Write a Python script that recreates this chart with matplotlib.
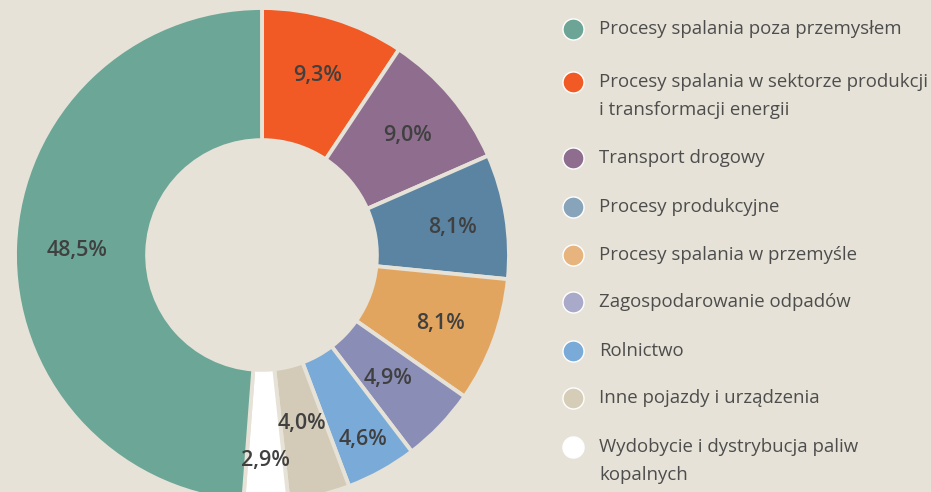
import matplotlib.pyplot as plt
import numpy as np

# Data
categories = ['Procesy spalania w sektorze produkcji\ni transformacji energii',
              'Transport drogowy',
              'Procesy produkcyjne',
              'Procesy spalania w przemyśle',
              'Zagospodarowanie odpadów',
              'Rolnictwo',
              'Inne pojazdy i urządzenia',
              'Wydobycie i dystrybucja paliw\nkopalnych',
              'Procesy spalania poza przemysłem']
values = [9.3, 9.0, 8.1, 8.1, 4.9, 4.6, 4.0, 2.9, 48.5]
labels = ['9,3%', '9,0%', '8,1%', '8,1%', '4,9%', '4,6%', '4,0%', '2,9%', '48,5%']
colors = ['#f15a24', '#8e6d8f', '#5b84a3', '#e2a55f', '#8a8db5',
          '#7aabd8', '#d3cbb8', '#ffffff', '#6ba696']
legend_colors = ['#f15a24', '#8e6d8f', '#87a4bb', '#e7b47e', '#a9a9c9',
                 '#7aabd8', '#d6cdb9', '#ffffff', '#6ca595']

# legend order as in the picture (green first)
legend_order = [8, 0, 1, 2, 3, 4, 5, 6, 7]

bg = '#e6e2d7'
label_r = [0.77, 0.77, 0.78, 0.77, 0.71, 0.84, 0.69, 0.82, 0.75]

fig = plt.figure(figsize=(9.31, 4.92), dpi=100)
fig.patch.set_facecolor(bg)

W, H = 931, 492
cx, cy, R = 262, 255, 247
ax = fig.add_axes([(cx - R) / W, (H - cy - R) / H, 2 * R / W, 2 * R / H])
ax.set_facecolor(bg)
wedges, _ = ax.pie(values, colors=colors, startangle=90, counterclock=False,
                   radius=1, wedgeprops=dict(width=0.535, edgecolor=bg, linewidth=2.8))
ax.set_xlim(-1, 1)
ax.set_ylim(-1, 1)
ax.set_aspect('equal')
ax.axis('off')

for w, lab, r in zip(wedges, labels, label_r):
    ang = np.deg2rad((w.theta1 + w.theta2) / 2)
    ax.text(r * np.cos(ang), r * np.sin(ang), lab, ha='center', va='center_baseline',
            fontsize=15.5, fontweight='semibold', family='Open Sans', color='#404040')

# legend drawn by hand
lax = fig.add_axes([0, 0, 1, 1])
lax.set_xlim(0, W)
lax.set_ylim(H, 0)
lax.axis('off')
ys = [29, 82, 158, 207, 255, 302, 351, 398, 447]
for y, i in zip(ys, legend_order):
    lax.scatter(573, y, s=230, color=legend_colors[i], edgecolor='white', linewidth=1, zorder=3)
    for k, line in enumerate(categories[i].split('\n')):
        lax.text(599, y + 28 * k, line, ha='left', va='center', fontsize=13.4,
                 family='Open Sans', color='#4d4d4d')

plt.savefig('out.png', dpi=100, facecolor=bg)
